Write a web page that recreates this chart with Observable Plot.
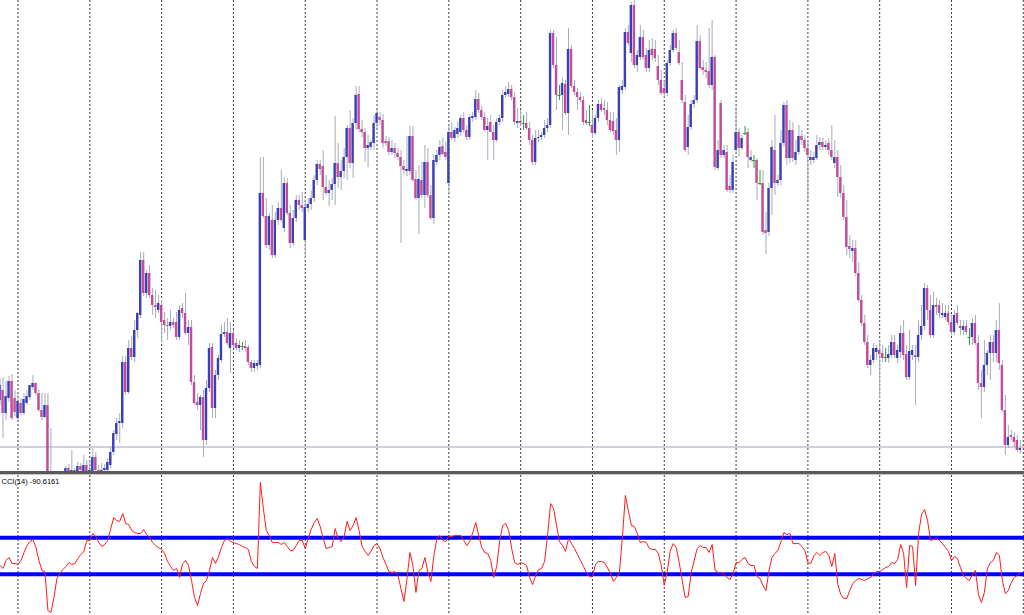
<!DOCTYPE html>
<html><head><meta charset="utf-8">
<script src="https://cdn.jsdelivr.net/npm/d3@7"></script>
<script src="https://cdn.jsdelivr.net/npm/@observablehq/plot@0.6"></script>
<style>
html,body{margin:0;padding:0;background:#fff;}
#wrap{width:1024px;height:615px;overflow:hidden;position:relative;font-family:"Liberation Sans",Arial,sans-serif;}
.sepA{height:3px;background:#5a5a5a;}
.sepB{height:1px;background:#c8c8c8;}
svg{display:block;}
</style></head>
<body><div id="wrap"><div id="price"></div><div class="sepA"></div><div class="sepB"></div><div id="cci"></div></div>
<script>
// ---- price bars (one per hourly bar, index = bar number, values in points) ----
const barOpen = [
70,80,57,72,89,72,52,67,57,67, 73,83,87,77,60,53,65,-10,-20,-25,
-22,-15,-6,2,-5,0,-6,4,-2,5, -3,-2,13,0,-6,0,0,5,18,36,
47,47,108,78,122,113,140,155,210,177, 197,175,165,160,165,150,145,144,148,148,
133,162,157,137,143,88,68,65,73,30, 82,123,62,95,110,136,138,122,137,127,
122,124,124,123,108,102,104,105,277,254, 225,250,215,250,262,242,287,257,227,252,
270,265,230,262,266,272,290,306,304,283, 277,280,286,307,293,299,313,342,307,347,
376,341,338,322,323,327,347,353,350,329, 329,318,322,317,313,304,299,299,334,291,
272,290,275,308,275,252,308,315,324,318, 287,338,332,336,338,352,340,333,352,353,
371,360,353,340,348,338,330,348,352,375, 376,381,373,347,349,347,347,342,330,308,
332,333,335,342,345,437,405,375,375,386, 357,421,384,378,373,370,350,348,345,337,
352,366,362,360,350,349,340,330,380,383, 438,417,465,405,413,433,415,402,421,421,
404,390,382,377,407,420,437,418,390,368, 323,343,366,370,429,403,400,399,385,413,
302,367,315,318,284,280,320,338,322,337, 338,310,310,310,287,287,240,238,282,320,
287,290,327,365,312,340,310,318,334,330, 322,310,310,312,325,328,323,327,320,307,
313,293,277,253,224,219,222,197,170,147, 128,105,110,118,120,117,113,112,115,128,
112,118,137,116,93,115,115,113,135,144, 182,160,135,165,165,155,153,157,148,138,
157,144,140,144,133,133,147,127,87,83, 105,117,128,117,140,105,60,25,35,33,
30,20];
const barHigh = [
92,93,89,94,96,80,75,72,77,80, 84,95,88,80,77,77,77,42,-15,-18,
-10,-8,4,6,20,2,8,7,15,10, 10,22,18,5,7,6,12,23,40,52,
57,114,114,130,134,150,158,218,218,200, 205,182,180,175,170,158,152,160,152,158,
165,167,177,150,150,95,77,75,80,90, 127,127,100,115,145,148,152,148,140,132,
130,128,130,125,110,110,110,313,313,272, 257,265,258,268,300,293,292,265,260,275,
275,278,270,272,280,295,310,310,320,295, 290,292,354,327,310,322,345,360,352,384,
384,350,342,335,330,355,360,358,356,334, 333,330,327,322,320,310,334,344,344,300,
305,308,325,322,285,315,320,330,333,328, 345,348,343,348,355,358,345,355,358,380,
377,364,358,352,355,345,352,355,380,384, 388,385,378,362,360,355,358,348,335,340,
340,338,350,352,440,440,433,385,392,390, 442,425,390,382,378,374,360,365,360,355,
370,372,370,368,358,358,352,385,390,442, 445,468,470,420,445,440,422,430,432,430,
415,400,390,410,425,440,442,430,408,375, 355,370,375,445,435,410,408,442,450,415,
330,370,325,325,295,315,363,342,335,344, 342,320,315,312,300,300,258,287,330,355,
295,340,368,370,350,348,330,345,340,335, 330,320,318,335,333,332,330,332,345,330,
320,305,285,270,235,230,230,208,175,155, 135,115,127,125,130,125,122,125,135,135,
125,145,150,125,140,125,125,150,165,187, 185,175,178,172,170,167,165,165,155,160,
165,150,150,150,142,152,155,135,100,130, 120,135,135,150,167,110,75,45,40,38,
35,30];
const barLow = [
65,32,50,68,50,54,50,55,55,65, 70,80,75,58,50,52,-15,-30,-35,-35,
-30,-25,-10,-5,-8,-10,-8,-4,-4,-6, -6,-4,-2,-8,-8,-4,-3,2,15,30,
27,42,75,76,110,108,132,152,174,172, 172,155,152,157,128,137,130,140,142,130,
130,152,135,125,85,65,60,40,13,25, 78,52,52,90,108,133,125,97,122,120,
118,120,118,105,98,98,100,102,252,222, 220,212,212,245,248,238,255,222,224,248,
260,258,212,258,260,268,285,295,270,275, 264,270,265,282,280,292,290,302,292,340,
338,333,308,303,320,320,342,345,322,324, 315,315,312,310,227,295,294,295,288,270,
236,272,262,272,250,246,305,310,315,310, 275,330,328,332,334,337,330,330,348,350,
357,350,338,310,338,310,328,345,348,372, 373,370,345,342,344,340,340,325,305,305,
328,330,332,338,342,402,360,370,340,355, 335,382,375,360,368,345,345,344,332,335,
348,358,355,345,338,335,315,318,376,380, 425,408,402,398,410,410,398,398,410,408,
385,375,373,374,404,418,420,405,367,318, 315,340,362,367,400,395,392,382,380,300,
300,312,312,278,277,277,317,313,320,335, 302,308,302,270,285,235,216,234,255,275,
284,285,323,305,307,308,305,315,325,318, 270,305,307,310,320,320,320,315,310,302,
273,272,250,215,212,208,194,168,144,125, 102,95,107,110,72,108,108,107,112,112,
107,112,110,90,90,110,65,108,130,140, 150,132,132,155,152,152,150,145,135,135,
145,135,135,135,125,125,125,80,52,78, 95,90,108,108,100,58,15,22,30,23,
18,17];
const barClose = [
85,57,74,89,52,58,69,57,71,74, 85,87,77,60,53,65,-10,-20,-25,-22,
-15,-20,2,-3,0,-6,4,0,5,-1, 0,13,0,-4,0,2,8,18,37,47,
49,108,78,122,113,140,157,210,177,197, 175,165,163,167,148,145,144,148,145,133,
160,157,137,143,88,67,65,73,30,82, 122,62,95,112,136,138,127,137,125,122,
125,124,122,108,102,107,107,277,254,225, 254,215,250,262,250,287,257,227,252,270,
265,262,263,266,272,290,306,301,283,277, 280,286,307,293,299,313,342,307,347,375,
341,338,322,325,328,347,357,350,327,327, 318,322,317,313,304,300,301,334,290,272,
291,275,308,275,252,310,315,323,316,313, 338,332,340,342,352,340,333,353,354,371,
360,353,340,344,338,330,348,352,375,378, 381,373,348,349,347,347,342,330,308,332,
333,335,342,345,437,405,375,375,387,357, 421,384,378,373,370,348,347,348,337,352,
366,360,360,350,340,339,330,383,384,438, 427,465,405,415,433,413,402,420,415,412,
390,377,377,407,420,437,422,407,370,320, 343,366,370,429,402,400,398,385,413,303,
320,315,320,280,280,308,338,322,332,337, 313,313,310,287,287,238,237,282,323,287,
290,327,365,312,340,312,318,334,330,322, 315,313,313,325,328,323,325,320,313,313,
293,277,253,223,221,222,197,170,147,128, 105,110,122,122,116,112,113,116,128,115,
120,137,115,93,119,120,113,135,144,182, 160,135,165,163,157,157,157,148,138,155,
147,142,144,138,133,147,127,87,83,105, 117,128,117,140,107,60,25,33,33,28,
20,22];
// ---- CCI(14), one value per bar ----
const cciValues = [
-52,-68,-25,-8,-41,-41,-46,-25,19,57, 79,90,46,-25,-79,-85,-298,-309,-227,-123,
-96,-74,-57,-36,-46,-41,-14,8,25,85, 85,123,107,74,52,63,85,150,210,194,
189,232,178,172,139,128,123,123,145,117, 101,74,57,46,36,14,-30,-57,-79,-68,
-117,-41,-25,-52,-134,-227,-270,-205,-150,-134, -79,-8,-41,-3,46,85,96,79,74,68,
63,52,46,36,-30,-57,-68,402,260,139, 112,74,74,74,63,74,52,30,30,57,
85,85,41,96,145,183,205,161,96,41, 46,52,150,96,79,107,189,139,167,210,
139,52,25,3,25,57,68,41,-8,-46, -85,-90,-85,-107,-178,-249,-123,19,-52,-199,
-79,-68,-8,-90,-139,3,96,112,85,79, 107,107,112,112,112,85,57,79,128,183,
112,46,19,14,-25,-117,-57,85,167,178, 139,41,-36,-46,-36,-41,-52,-117,-156,-107,
-74,-68,-30,112,287,260,167,79,57,25, 96,68,41,8,-25,-57,-90,-112,-112,-46,
-30,-30,-36,-63,-96,-139,-117,-90,101,331, 249,167,161,123,74,79,74,41,36,36,
14,-52,-161,-85,30,68,46,-36,-134,-227, -221,-90,-25,41,57,46,46,19,63,-79,
-90,-90,-101,-117,-128,-96,-36,-36,-19,-8, -41,-52,-52,-112,-123,-161,-189,-79,-8,14,
30,79,128,117,123,68,68,68,52,30, -36,-41,3,19,3,19,25,3,-57,14,
-156,-210,-232,-232,-189,-150,-134,-123,-128,-134, -123,-117,-96,-85,-85,-74,-63,-57,-36,-41,
-19,63,14,-172,57,52,-161,123,227,254, 194,85,90,96,85,68,46,25,-25,-3,
-14,-63,-107,-123,-134,-101,-79,-210,-254,-199, -68,-36,-25,19,3,-134,-205,-189,-145,-117,
-107,-90.6161];
const daySeparators = [6,30,54,78,102,126,150,174,198,222,246,270,294,318,342];
const priceLevel = [23.5];
const cciLevels = [100, -100];
const cciName = "CCI";
const cciPeriod = 14;
const cciLast = "-90.6161";

const bullColor = "#3a3fb8", bearColor = "#c44a9a", wickColor = "#a4adbb", dojiColor = "#2e9a2e";
const bars = barOpen.map((o, i) => ({i, open: o, high: barHigh[i], low: barLow[i], close: barClose[i]}));
const bodies = bars.filter(d => d.open !== d.close);
const dojis = bars.filter(d => d.open === d.close);
const xDomain = [0.15, 342.4];

const priceChart = Plot.plot({
  width: 1024, height: 471, margin: 0,
  x: {domain: xDomain, axis: null},
  y: {domain: [-1, 470], axis: null},
  color: {type: "identity"},
  style: {background: "#fff", overflow: "hidden"},
  marks: [
    Plot.ruleX(daySeparators, {stroke: "#3c3c3c", strokeDasharray: "2,2"}),
    Plot.ruleY(priceLevel, {stroke: "#9aa4b8"}),
    Plot.ruleX(bars, {x: "i", y1: "low", y2: "high", stroke: d => d.open === d.close ? dojiColor : wickColor, clip: true}),
    Plot.rect(bodies, {x1: d => d.i - 0.4, x2: d => d.i + 0.4, y1: "open", y2: "close",
      fill: d => d.close > d.open ? bullColor : bearColor, clip: true}),
    Plot.ruleY(dojis, {y: "open", x1: d => d.i - 0.5, x2: d => d.i + 0.5, stroke: dojiColor, clip: true})
  ]
});
document.getElementById("price").appendChild(priceChart);

const cciRows = cciValues.map((v, i) => ({i, v}));
const cciChart = Plot.plot({
  width: 1024, height: 140, margin: 0,
  x: {domain: xDomain, axis: null},
  y: {domain: [-325, 440], axis: null},
  style: {background: "#fff", overflow: "hidden"},
  marks: [
    Plot.ruleX(daySeparators, {stroke: "#3c3c3c", strokeDasharray: "2,2"}),
    Plot.ruleY(cciLevels, {stroke: "#0000ff", strokeWidth: 4}),
    Plot.line(cciRows, {x: "i", y: "v", stroke: "#ff1a1a", strokeWidth: 1, clip: true}),
    Plot.text([`${cciName}(${cciPeriod}) ${cciLast}`], {frameAnchor: "top-left", dx: 1, dy: 3,
      fontSize: 7.5, fill: "#000", fontFamily: "Liberation Sans, Arial, sans-serif"})
  ]
});
document.getElementById("cci").appendChild(cciChart);
</script>
</body></html>
